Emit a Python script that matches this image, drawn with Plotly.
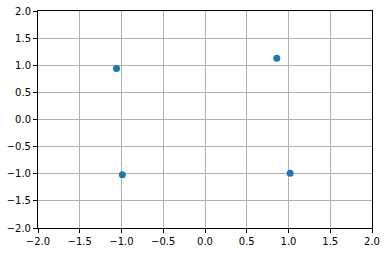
import plotly.graph_objects as go

x_vals = [-1.06, -0.99, 0.86, 1.02]
y_vals = [0.94, -1.02, 1.13, -0.99]
ticks = [-2.0, -1.5, -1.0, -0.5, 0.0, 0.5, 1.0, 1.5, 2.0]

fig = go.Figure(go.Scatter(
    x=x_vals, y=y_vals, mode="markers",
    marker=dict(color="#1f77b4", size=7, line=dict(width=0)),
    cliponaxis=False,
))

axis_common = dict(
    range=[-2, 2], tickvals=ticks, tickformat=".1f",
    showgrid=True, gridcolor="#b0b0b0", gridwidth=1,
    showline=True, linecolor="black", linewidth=1, mirror=True,
    ticks="outside", ticklen=4, tickcolor="black", tickwidth=1,
    zeroline=False, automargin=False,
    tickfont=dict(family="DejaVu Sans", size=10, color="black"),
)
fig.update_xaxes(**axis_common)
fig.update_yaxes(**axis_common)
fig.update_layout(
    width=388, height=260,
    margin=dict(l=38, r=16, t=11, b=32),
    plot_bgcolor="white", paper_bgcolor="white",
    showlegend=False,
)
fig.write_html("out.html")
